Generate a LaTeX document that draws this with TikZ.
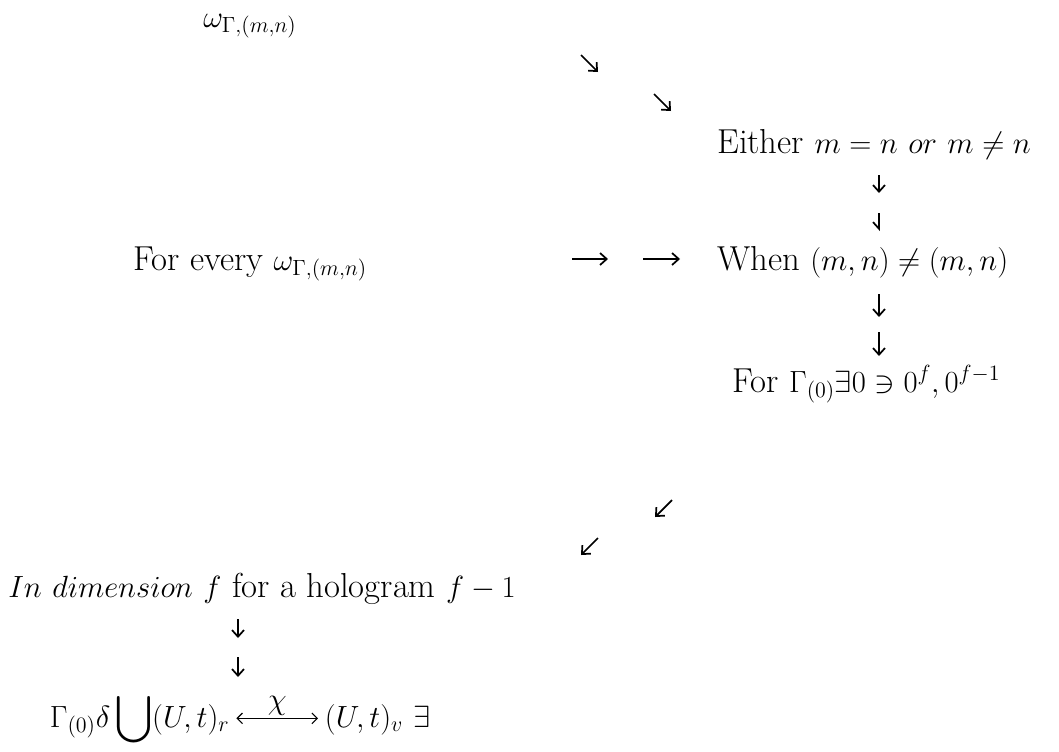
\RequirePackage{fix-cm}
\documentclass[tikz,border=0pt]{standalone}
\usepackage{amsmath}
\usepackage{fontspec}
\usepackage{tikz}
\usetikzlibrary{arrows.meta}
\DeclareMathSizes{26}{23}{16.5}{12}

\begin{document}
\begin{tikzpicture}[
    x=0.75pt, y=-0.75pt,
    font=\fontsize{26}{31}\selectfont,
    txt/.style={anchor=base west, inner sep=0pt},
    glyph/.style={line width=1.3pt, -{Straight Barb[length=5pt, width=9pt]}},
    harp/.style={line width=1.3pt, -{Straight Barb[harpoon, swap, length=5pt, width=9pt]}}
]
\useasboundingbox (0,0) rectangle (1059,751);

% Statements
\node[txt] (omega) at (203,27) {$\omega_{\Gamma,(m,n)}$};
\node[txt] (either) at (717,153) {Either $m=n\ or\ m\neq n$};
\node[txt] (every) at (133,270) {For every $\omega_{\Gamma,(m,n)}$};
\node[txt] (when) at (717,270) {When $(m,n)\neq(m,n)$};
\node[txt] (forgamma) at (732,392) {For $\Gamma_{(0)}\exists 0\ni 0^{f},0^{f-1}$};
\node[txt] (indim) at (8,597) {$In\ dimension\ f$ for a hologram $f-1$};

% Bottom relation
\node[txt, inner sep=5pt] (bl) at (43,727) {$\Gamma_{(0)}\delta\displaystyle\bigcup(U,t)_r$};
\node[txt, inner sep=5pt] (br) at (318,727) {$(U,t)_v\ \exists$};
\draw[line width=0.8pt, {Straight Barb[length=4pt, width=8pt]}-{Straight Barb[length=4pt, width=8pt]}]
    ([yshift=6.5pt]bl.base east) -- ([yshift=6.5pt]br.base west)
    node[midway, above=1pt, inner sep=1pt] (chi) {$\chi$};

% Arrow marks
\coordinate (se1a) at (581,55);  \coordinate (se1b) at (598,72);
\coordinate (se2a) at (654,94);  \coordinate (se2b) at (671,111);
\coordinate (d1a) at (879,175);  \coordinate (d1b) at (879,193);
\coordinate (d2a) at (879,213);  \coordinate (d2b) at (879,231);
\coordinate (r1a) at (572,259);  \coordinate (r1b) at (608,259);
\coordinate (r2a) at (643,259);  \coordinate (r2b) at (680,259);
\coordinate (d3a) at (879,294);  \coordinate (d3b) at (879,317);
\coordinate (d4a) at (879,332);  \coordinate (d4b) at (879,356);
\coordinate (sw1a) at (672,500); \coordinate (sw1b) at (655,517);
\coordinate (sw2a) at (598,538); \coordinate (sw2b) at (581,555);
\coordinate (d5a) at (238,619);  \coordinate (d5b) at (238,638);
\coordinate (d6a) at (238,657);  \coordinate (d6b) at (238,677);

\draw[glyph] (se1a) -- (se1b);
\draw[glyph] (se2a) -- (se2b);
\draw[glyph] (d1a) -- (d1b);
\draw[harp] (d2a) -- (d2b);
\draw[glyph] (r1a) -- (r1b);
\draw[glyph] (r2a) -- (r2b);
\draw[glyph] (d3a) -- (d3b);
\draw[glyph] (d4a) -- (d4b);
\draw[glyph] (sw1a) -- (sw1b);
\draw[glyph] (sw2a) -- (sw2b);
\draw[glyph] (d5a) -- (d5b);
\draw[glyph] (d6a) -- (d6b);

\end{tikzpicture}
\end{document}
